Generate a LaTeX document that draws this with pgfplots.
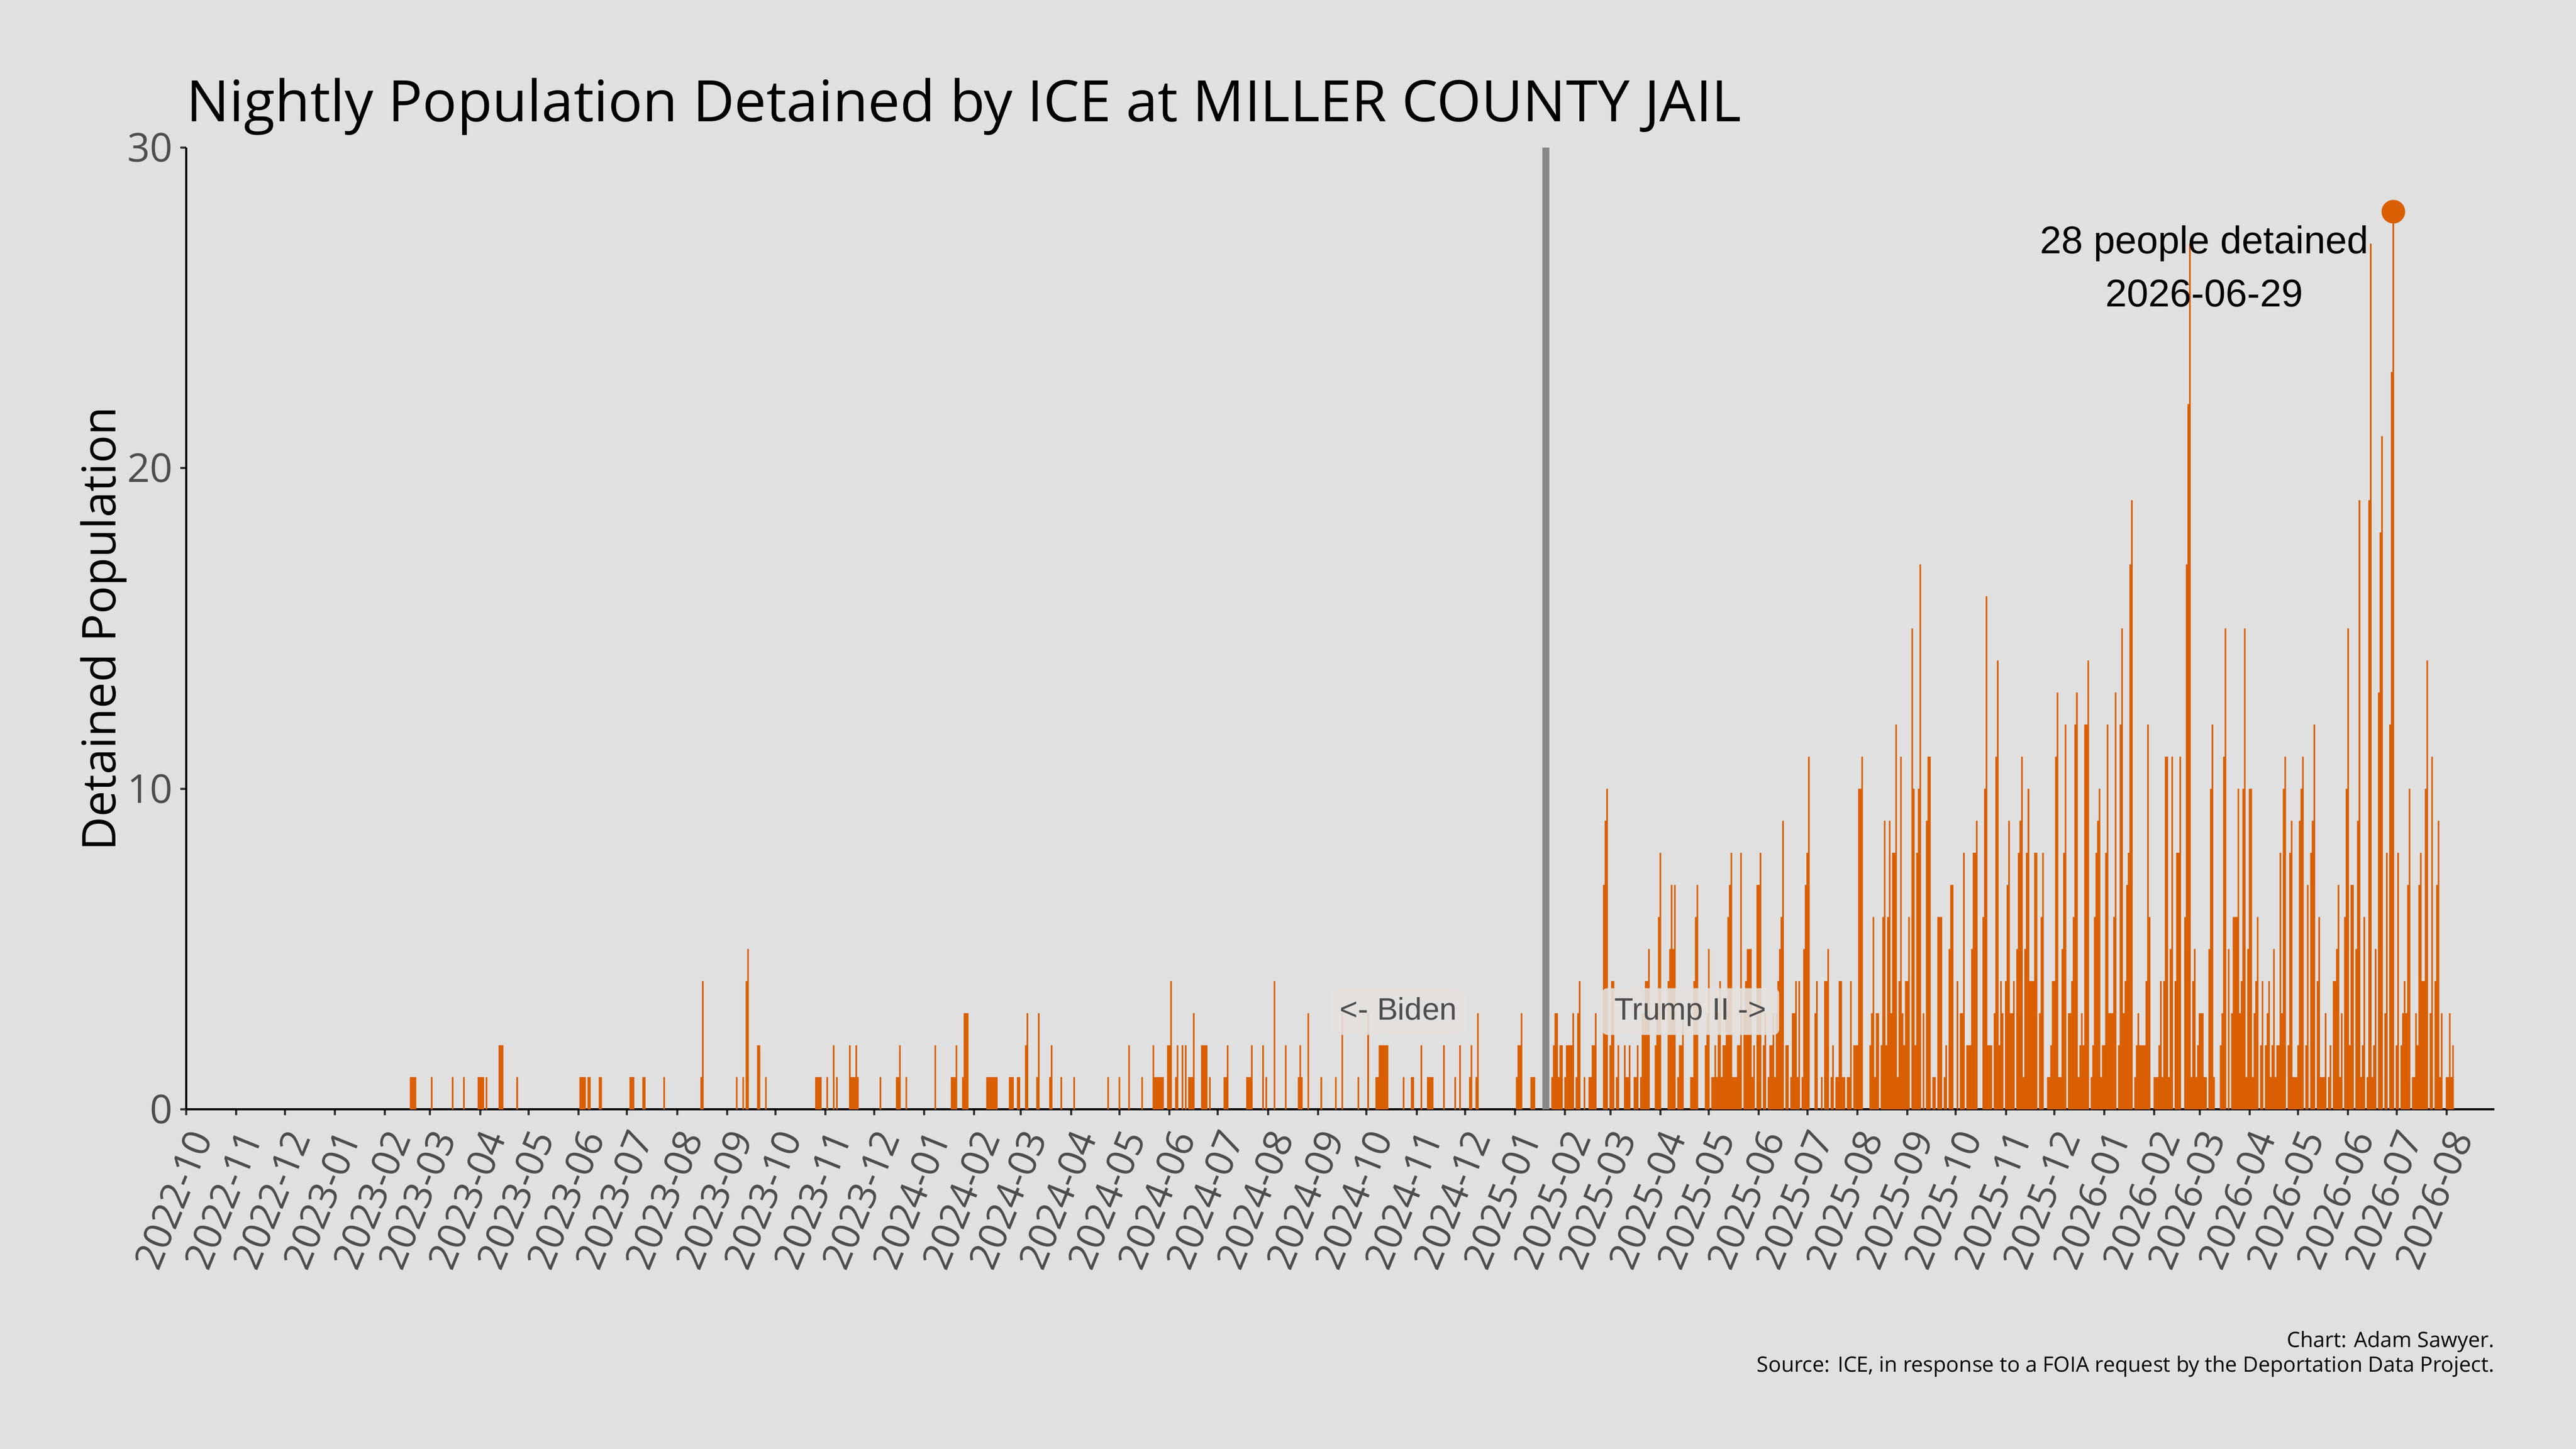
\documentclass[border=0pt]{standalone}
\usepackage{fontspec}
\setmainfont{Open Sans}
\newfontfamily\arialf{Liberation Sans}
\usepackage{pgfplots}
\pgfplotsset{compat=1.18}
\definecolor{bg}{HTML}{E0E0E0}
\definecolor{barc}{HTML}{D95F02}
\definecolor{vline}{HTML}{888888}
\definecolor{ticklab}{HTML}{4D4D4D}
\definecolor{boxfill}{HTML}{E4E0DD}
\begin{document}
\begin{tikzpicture}
\fill[bg] (0,0) rectangle (480pt,270pt);
\begin{axis}[
  at={(34.7pt,63.3pt)}, anchor=south west,
  scale only axis, width=430.1pt, height=179.2pt,
  xmin=0, xmax=1429.6, ymin=0, ymax=30,
  axis lines*=left,
  axis line style={-},
  x axis line style={line width=0.45pt},
  y axis line style={line width=0.35pt},
  tick align=outside,
  major tick length=1.1pt,
  every tick/.style={line width=0.4pt, color=black!80},
  xtick={0,31,61,92,123,151,182,212,243,273,304,335,365,396,426,457,488,517,548,578,609,639,670,701,731,762,792,823,854,882,913,943,974,1004,1035,1066,1096,1127,1157,1188,1219,1247,1278,1308,1339,1369,1400},
  xticklabels={2022-10,2022-11,2022-12,2023-01,2023-02,2023-03,2023-04,2023-05,2023-06,2023-07,2023-08,2023-09,2023-10,2023-11,2023-12,2024-01,2024-02,2024-03,2024-04,2024-05,2024-06,2024-07,2024-08,2024-09,2024-10,2024-11,2024-12,2025-01,2025-02,2025-03,2025-04,2025-05,2025-06,2025-07,2025-08,2025-09,2025-10,2025-11,2025-12,2026-01,2026-02,2026-03,2026-04,2026-05,2026-06,2026-07,2026-08},
  ytick={0,10,20,30}, yticklabels={0,10,20,30},
  xticklabel style={rotate=68, anchor=north east, font=\fontsize{7.2}{8}\selectfont, text=ticklab, inner sep=0pt},
  xticklabel shift=2pt,
  yticklabel style={font=\fontsize{7.4}{8}\selectfont, text=ticklab, inner sep=0pt, xshift=-1.2pt},
  clip=false,
]
\addplot[ybar, bar width=1, fill=barc, draw=none] coordinates {
(139,1)(140,1)(141,1)(142,1)(152,1)(165,1)(172,1)(181,1)(182,1)(183,1)(184,1)(186,1)(194,2)(195,2)(196,2)(205,1)
(244,1)(245,1)(246,1)(247,1)(249,1)(250,1)(256,1)(257,1)(275,1)(276,1)(277,1)(283,1)(284,1)(296,1)(319,1)(320,4)
(341,1)(345,1)(347,4)(348,5)(354,2)(355,2)(359,1)(390,1)(391,1)(392,1)(393,1)(397,1)(401,2)(403,1)(411,2)(412,1)
(413,1)(414,1)(415,2)(416,1)(430,1)(440,1)(441,1)(442,2)(446,1)(464,2)(474,1)(475,1)(476,1)(477,2)(481,1)(482,3)
(483,3)(484,3)(496,1)(497,1)(498,1)(499,1)(500,1)(501,1)(502,1)(510,1)(511,1)(512,1)(515,1)(516,1)(520,2)(521,3)
(527,1)(528,3)(535,1)(536,2)(542,1)(550,1)(571,1)(578,1)(584,2)(592,1)(599,2)(600,1)(601,1)(602,1)(603,1)(604,1)
(605,1)(608,2)(609,2)(610,4)(613,1)(614,2)(617,2)(619,2)(621,1)(622,1)(623,1)(624,3)(629,2)(630,2)(631,2)(632,2)
(634,1)(643,1)(644,1)(645,2)(657,1)(658,1)(659,1)(660,2)(667,2)(669,1)(674,4)(681,2)(689,1)(690,2)(691,1)(695,3)
(703,1)(712,1)(716,3)(726,1)(732,3)(737,1)(738,1)(739,2)(740,2)(741,2)(742,2)(743,2)(744,2)(754,1)(759,1)(760,1)
(765,2)(769,1)(770,1)(771,1)(772,1)(779,2)(786,1)(789,2)(795,1)(796,2)(799,1)(800,3)(824,1)(825,2)(826,2)(827,3)
(833,1)(834,1)(835,1)
(846,1)(847,2)(848,3)(849,3)(850,1)(851,2)(852,2)(854,1)(855,2)(856,2)(857,2)(858,2)(859,3)(861,1)(862,3)(863,4)
(866,1)(869,1)(870,1)(871,2)(872,2)(873,3)(878,7)(879,9)(880,10)(882,2)(883,4)(884,4)(886,1)(887,2)(891,2)(892,1)
(893,1)(894,2)(897,1)(898,1)(899,2)(901,1)(902,3)(903,3)(904,4)(905,4)(906,5)(910,2)(911,3)(912,6)(913,8)(918,4)
(919,5)(920,7)(921,5)(922,7)(924,1)(925,2)(926,2)(927,3)(932,1)(933,1)(934,4)(935,6)(936,7)(941,2)(942,3)(943,5)
(945,1)(946,1)(947,2)(948,1)(949,3)(950,4)(951,1)(952,2)(953,2)(954,3)(955,6)(956,7)(957,8)(958,1)(959,1)(960,1)
(961,2)(962,2)(963,8)(965,3)(966,4)(967,5)(968,5)(969,5)(970,1)(971,2)(973,7)(974,7)(975,8)(977,2)(978,3)(980,1)
(981,2)(982,2)(983,3)(984,1)(985,3)(986,4)(987,5)(988,6)(989,9)(991,2)(992,2)(994,1)(995,3)(996,3)(997,4)(998,1)
(999,4)(1001,1)(1002,5)(1003,7)(1004,8)(1005,11)(1009,3)(1010,4)(1013,1)(1015,4)(1016,4)(1017,5)(1019,1)(1020,2)
(1022,1)(1023,1)(1024,4)(1025,4)(1026,1)(1027,1)(1029,1)(1030,1)(1031,4)(1033,2)(1034,2)(1035,2)(1036,10)(1037,10)
(1038,11)(1043,2)(1044,3)(1045,6)(1046,1)(1047,3)(1048,3)(1050,2)(1051,6)(1052,9)(1053,2)(1054,6)(1055,9)(1056,3)
(1057,8)(1058,8)(1059,12)(1060,1)(1061,4)(1062,11)(1063,3)(1064,2)(1065,4)(1066,4)(1067,6)(1069,15)(1070,10)(1071,2)
(1072,8)(1073,10)(1074,17)(1076,3)(1078,9)(1079,11)(1080,11)(1082,1)(1083,1)(1085,6)(1086,6)(1087,6)(1089,1)(1090,2)
(1092,5)(1093,7)(1094,7)(1097,4)(1099,3)(1100,3)(1101,8)(1103,2)(1104,2)(1105,2)(1106,5)(1107,8)(1108,8)(1109,9)
(1113,6)(1114,10)(1115,16)(1116,2)(1117,2)(1118,2)(1120,3)(1121,11)(1122,14)(1123,2)(1124,4)(1125,3)(1127,4)
(1128,7)(1129,9)(1130,3)(1131,3)(1132,4)(1134,5)(1135,8)(1136,9)(1137,11)(1138,1)(1139,5)(1140,8)(1141,10)(1142,4)
(1143,4)(1144,4)(1145,8)(1146,8)(1148,3)(1149,6)(1150,8)(1153,1)(1154,1)(1155,2)(1156,4)(1157,4)(1158,11)(1159,13)
(1160,1)(1161,1)(1162,5)(1163,8)(1164,12)(1166,3)(1167,3)(1168,4)(1169,6)(1170,12)(1171,13)(1172,1)(1173,2)(1174,3)
(1175,2)(1176,12)(1177,12)(1178,14)(1180,1)(1181,2)(1182,6)(1183,8)(1184,9)(1185,10)(1186,1)(1187,2)(1188,2)(1189,8)
(1190,12)(1191,3)(1192,3)(1193,3)(1194,6)(1195,13)(1197,2)(1198,12)(1199,15)(1200,3)(1201,4)(1202,7)(1203,8)(1204,17)
(1205,19)(1207,1)(1208,2)(1209,3)(1210,2)(1211,2)(1212,2)(1213,2)(1214,4)(1215,12)(1216,6)(1219,1)(1220,1)(1221,1)
(1222,2)(1223,4)(1224,1)(1225,4)(1226,11)(1227,11)(1228,1)(1229,5)(1230,11)(1232,4)(1233,8)(1234,8)(1235,11)(1238,6)
(1239,17)(1240,22)(1241,27)(1242,1)(1243,4)(1244,5)(1245,1)(1246,2)(1247,3)(1248,3)(1249,3)(1250,1)(1251,1)(1253,5)
(1254,10)(1255,12)(1256,1)(1260,2)(1261,3)(1262,11)(1263,15)(1265,5)(1267,3)(1268,6)(1269,6)(1270,6)(1271,10)(1272,3)
(1273,4)(1274,10)(1275,15)(1276,1)(1277,5)(1278,10)(1279,10)(1280,1)(1281,3)(1282,4)(1283,6)(1285,2)(1286,4)(1288,2)
(1289,3)(1290,4)(1291,1)(1292,2)(1293,5)(1294,1)(1295,2)(1296,2)(1297,8)(1298,3)(1299,10)(1300,11)(1302,2)(1303,8)
(1304,9)(1305,1)(1306,1)(1307,1)(1308,2)(1309,9)(1310,10)(1311,11)(1313,2)(1314,7)(1316,8)(1317,9)(1318,12)(1320,4)
(1321,6)(1322,1)(1323,1)(1324,1)(1325,3)(1327,1)(1328,2)(1330,4)(1331,4)(1332,5)(1333,7)(1334,1)(1335,3)(1337,6)
(1338,10)(1339,15)(1340,2)(1341,7)(1342,7)(1344,5)(1345,9)(1346,19)(1347,1)(1348,2)(1349,6)(1351,1)(1352,19)(1353,27)
(1354,1)(1355,2)(1356,5)(1358,13)(1359,18)(1360,21)(1362,3)(1363,8)(1365,12)(1366,23)(1367,28)(1369,2)(1370,8)
(1372,2)(1373,3)(1374,4)(1375,3)(1376,7)(1377,10)(1379,1)(1380,1)(1381,3)(1382,2)(1383,7)(1384,8)(1385,4)(1386,4)
(1387,10)(1388,14)(1390,3)(1391,11)(1393,4)(1394,7)(1395,9)(1396,1)(1397,3)(1400,1)(1401,1)(1402,3)(1403,1)(1404,2)
};
\addplot[color=vline, line width=1.3pt] coordinates {(842,0) (842,30)};
\addplot[only marks, mark=*, mark size=2pt, color=barc] coordinates {(1367,28)};
\node[anchor=base, inner sep=0pt, font=\arialf\fontsize{7.2}{8}\selectfont] at (axis cs:1250,26.70) {28 people detained};
\node[anchor=base, inner sep=0pt, font=\arialf\fontsize{7.2}{8}\selectfont] at (axis cs:1250,25.03) {2026-06-29};
\node[fill=boxfill, fill opacity=0.9, text opacity=1, rounded corners=1pt, inner xsep=1.7pt, inner ysep=1.6pt, text height=4.3pt, text depth=1.2pt, text=ticklab, font=\arialf\fontsize{5.8}{6}\selectfont] at (axis cs:750.8,3.05) {<- Biden};
\node[fill=boxfill, fill opacity=0.9, text opacity=1, rounded corners=1pt, inner xsep=2.35pt, inner ysep=1.6pt, text height=4.3pt, text depth=1.2pt, text=ticklab, font=\arialf\fontsize{5.8}{6}\selectfont] at (axis cs:931.7,3.05) {Trump II ->};
\end{axis}
\node[anchor=base west, inner sep=0pt, font=\fontsize{10.65}{12}\selectfont] at (34.5pt,247.3pt) {Nightly Population Detained by ICE at MILLER COUNTY JAIL};
\node[anchor=base, rotate=90, inner sep=0pt, font=\fontsize{8.65}{10}\selectfont] at (21.5pt,152.8pt) {Detained Population};
\node[anchor=base east, inner sep=0pt, font=\fontsize{3.95}{4.5}\selectfont] at (465pt,18.9pt) {Chart: Adam Sawyer.};
\node[anchor=base east, inner sep=0pt, font=\fontsize{3.95}{4.5}\selectfont] at (465pt,14.3pt) {Source: ICE, in response to a FOIA request by the Deportation Data Project.};
\pgfresetboundingbox
\path (0,0) rectangle (480pt,270pt);
\end{tikzpicture}
\end{document}
